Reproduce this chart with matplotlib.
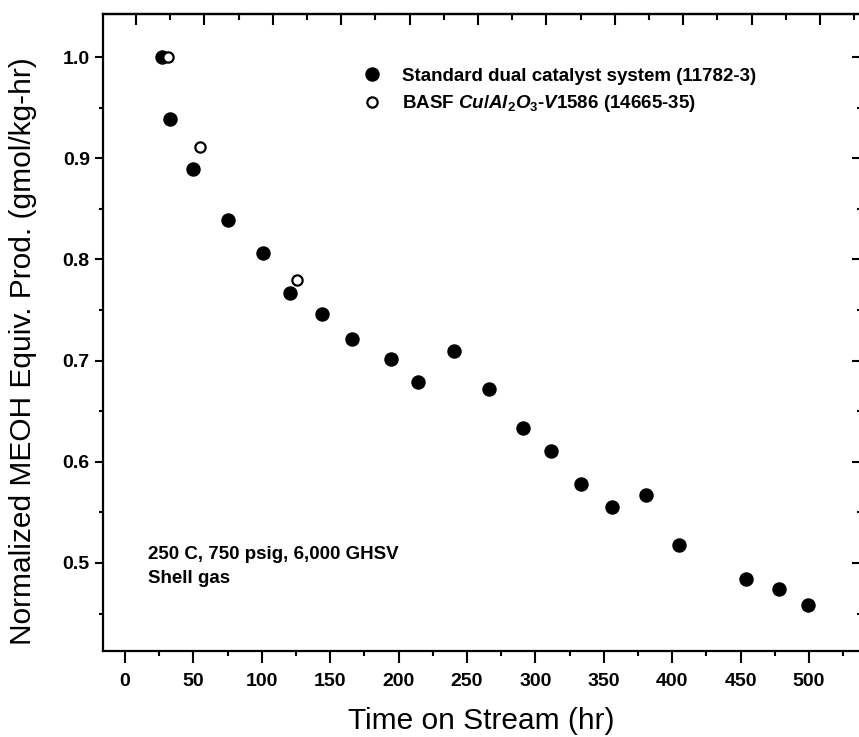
import matplotlib
matplotlib.use("Agg")
import matplotlib.pyplot as plt
import numpy as np
from matplotlib.ticker import MultipleLocator

plt.rcParams['font.family'] = ['Liberation Sans', 'DejaVu Sans']
plt.rcParams['mathtext.fontset'] = 'custom'
plt.rcParams['mathtext.rm'] = 'Liberation Sans:bold'
plt.rcParams['mathtext.it'] = 'Liberation Sans:bold:italic'
plt.rcParams['mathtext.bf'] = 'Liberation Sans:bold'

# standard dual catalyst system (11782-3)
std_time = [27, 33, 50, 75.5, 101, 120.5, 144, 166, 194.5, 214, 240.5, 266,
            291, 311.5, 333, 356, 381, 405, 454, 478, 499]
std_prod = [1.000, 0.939, 0.889, 0.839, 0.806, 0.767, 0.746, 0.721, 0.702, 0.679, 0.709, 0.672,
            0.633, 0.611, 0.578, 0.555, 0.567, 0.518, 0.484, 0.474, 0.458]

# BASF Cu/Al2O3-V1586 (14665-35)
basf_time = [31.5, 55, 125.5]
basf_prod = [1.000, 0.911, 0.780]

std_label = 'Standard dual catalyst system (11782-3)'
basf_label = r'BASF $\mathit{Cu/Al_2O_3}$-$\mathit{V1586}$ (14665-35)'
note = '250 C, 750 psig, 6,000 GHSV\nShell gas'

fig = plt.figure(figsize=(8.59, 7.37), dpi=100)
ax = fig.add_axes([0.1199, 0.1167, 0.8848, 0.8643])

ax.plot(std_time, std_prod, 'o', color='black', markersize=9.4, label=std_label, zorder=3)
ax.plot(basf_time, basf_prod, 'o', markerfacecolor='white', markeredgecolor='black',
        markeredgewidth=1.6, markersize=7.4, label=basf_label, zorder=4)

ax.set_xlim(-16.1, 539.5)
ax.set_ylim(0.413, 1.0425)

ax.xaxis.set_minor_locator(MultipleLocator(25))
ax.yaxis.set_minor_locator(MultipleLocator(0.05))
ax.set_xticks(np.arange(0, 501, 50))
ax.set_yticks([0.5, 0.6, 0.7, 0.8, 0.9, 1.0])
ax.set_yticklabels(['0.5', '0.6', '0.7', '0.8', '0.9', '1.0'])

for s in ax.spines.values():
    s.set_linewidth(1.6)

ax.tick_params(axis='x', which='major', direction='out', length=8.5, width=1.5,
               pad=7, labelsize=14, top=False)
ax.tick_params(axis='x', which='minor', direction='out', length=3.5, width=1.5, top=False)
ax.tick_params(axis='y', which='major', direction='out', length=6, width=1.5,
               pad=3.5, labelsize=14, right=False)
ax.tick_params(axis='y', which='minor', direction='out', length=3, width=1.5, right=False)
for lab in ax.get_xticklabels() + ax.get_yticklabels():
    lab.set_fontweight('bold')

# top and right frame ticks point inward (top scale is slightly shifted in the scan)
top = ax.secondary_xaxis('top', functions=(lambda x: x - 8, lambda x: x + 8))
top.xaxis.set_major_locator(MultipleLocator(50))
top.xaxis.set_minor_locator(MultipleLocator(25))
top.tick_params(which='major', direction='in', length=8, width=1.5, labeltop=False)
top.tick_params(which='minor', direction='in', length=4, width=1.5)
top.spines['top'].set_linewidth(1.6)

right = ax.secondary_yaxis('right')
right.yaxis.set_major_locator(MultipleLocator(0.1))
right.yaxis.set_minor_locator(MultipleLocator(0.05))
right.tick_params(which='major', direction='in', length=8, width=1.5, labelright=False)
right.tick_params(which='minor', direction='in', length=4, width=1.5)

ax.legend(loc='upper left', bbox_to_anchor=(0.341, 0.9156), frameon=False,
          handlelength=1.0, handletextpad=1.15, borderpad=0, borderaxespad=0,
          labelspacing=0.45, prop={'size': 13.5, 'weight': 'bold'})

ax.text(17.0, 0.4965, note, ha='left', va='center', fontsize=13.5, fontweight='bold',
        linespacing=1.55)

fig.text(23 / 859, 1 - 351 / 737, 'Normalized MEOH Equiv. Prod. (gmol/kg-hr)',
         rotation=90, ha='center', va='center', fontsize=21.5)
fig.text(481 / 859, 1 - 729 / 737, 'Time on Stream (hr)', ha='center', va='baseline',
         fontsize=21.5)

fig.savefig('out.png', dpi=100)
